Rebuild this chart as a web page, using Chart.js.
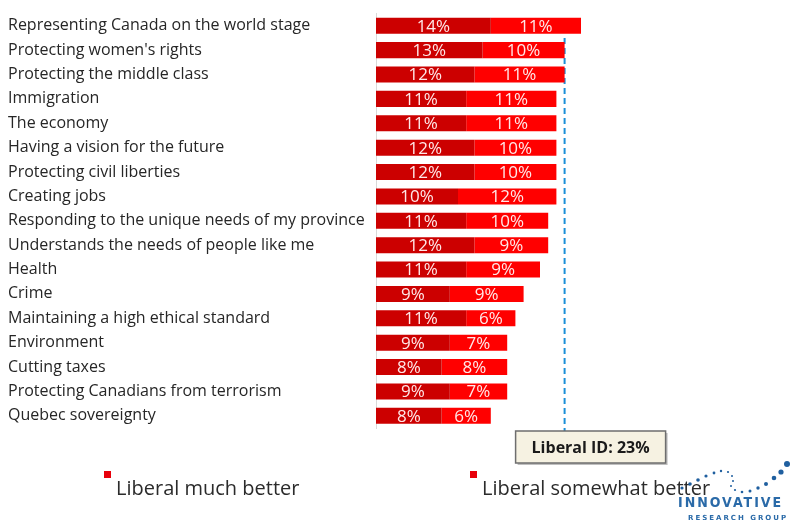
<!DOCTYPE html>
<html>
<head>
<meta charset="utf-8">
<script src="https://cdn.jsdelivr.net/npm/chart.js@4"></script>
<style>
  html, body { margin: 0; padding: 0; background: #fff; }
  #wrap { position: relative; width: 799px; height: 525px; }
</style>
</head>
<body>
<div id="wrap"><canvas id="chart" width="799" height="525"></canvas></div>
<script>
const categories = [
  'Representing Canada on the world stage',
  "Protecting women's rights",
  'Protecting the middle class',
  'Immigration',
  'The economy',
  'Having a vision for the future',
  'Protecting civil liberties',
  'Creating jobs',
  'Responding to the unique needs of my province',
  'Understands the needs of people like me',
  'Health',
  'Crime',
  'Maintaining a high ethical standard',
  'Environment',
  'Cutting taxes',
  'Protecting Canadians from terrorism',
  'Quebec sovereignty'
];
const muchBetter     = [14, 13, 12, 11, 11, 12, 12, 10, 11, 12, 11, 9, 11, 9, 8, 9, 8];
const somewhatBetter = [11, 10, 11, 11, 11, 10, 10, 12, 10,  9,  9, 9,  6, 7, 8, 7, 6];
const seriesNames = ['Liberal much better', 'Liberal somewhat better'];
const liberalId = 23;

const darkRed = '#cc0000';
const brightRed = '#ff0000';
const fontFam = "'Open Sans', sans-serif";

// value labels inside each segment
const segLabels = {
  id: 'segLabels',
  afterDatasetsDraw(chart) {
    const c = chart.ctx;
    c.save();
    c.font = '17px ' + fontFam;
    c.fillStyle = '#ffe8e8';
    c.textAlign = 'center';
    c.textBaseline = 'middle';
    chart.data.datasets.forEach((ds, i) => {
      chart.getDatasetMeta(i).data.forEach((bar, j) => {
        const x = (bar.x + bar.base) / 2;
        c.fillText(ds.data[j] + '%', x, bar.y + 1);
      });
    });
    c.restore();
  }
};

// dashed reference line + callout box
const idLine = {
  id: 'idLine',
  beforeDatasetsDraw(chart) {
    const c = chart.ctx;
    const xs = chart.scales.x, ys = chart.scales.y;
    const x = xs.getPixelForValue(liberalId);
    const pitch = ys.getPixelForValue(1) - ys.getPixelForValue(0);
    c.save();
    c.strokeStyle = '#1b8fd8';
    c.lineWidth = 2;
    c.setLineDash([6, 4]);
    c.beginPath();
    c.moveTo(x, ys.getPixelForValue(1) - pitch / 2);
    c.lineTo(x, chart.chartArea.bottom + 4);
    c.stroke();
    c.restore();
  },
  afterDraw(chart) {
    const c = chart.ctx;
    const x = chart.scales.x.getPixelForValue(liberalId);
    const bx = x - 49, by = chart.chartArea.bottom + 3, bw = 150, bh = 32;
    c.save();
    c.fillStyle = 'rgba(0,0,0,0.25)';
    c.fillRect(bx + 2, by + 2, bw, bh);
    c.fillStyle = '#f6f2e2';
    c.fillRect(bx, by, bw, bh);
    c.strokeStyle = '#6e6e6e';
    c.lineWidth = 1.5;
    c.strokeRect(bx, by, bw, bh);
    c.fillStyle = '#1a1a1a';
    c.font = 'bold 16px ' + fontFam;
    c.textAlign = 'center';
    c.textBaseline = 'middle';
    c.fillText('Liberal ID: ' + liberalId + '%', bx + bw / 2, by + bh / 2 + 1);
    c.restore();
  }
};

// legend at the bottom and logo
const bottomLegend = {
  id: 'bottomLegend',
  afterDraw(chart) {
    const c = chart.ctx;
    const spots = [104, 470];
    c.save();
    chart.data.datasets.forEach((ds, i) => {
      const lx = spots[i];
      c.fillStyle = '#e8000b';
      c.fillRect(lx, 471, 7, 7);
      c.fillStyle = '#2b2b2b';
      c.font = '20px ' + fontFam;
      c.textAlign = 'left';
      c.textBaseline = 'alphabetic';
      c.fillText(ds.label, lx + 12, 495);
    });

    // logo dots
    const dots = [
      [682, 488, 1.6], [690, 484, 1.8], [698, 480, 1.8], [706, 476, 1.6], [714, 473, 1.4],
      [721, 471, 1.2], [728, 472, 1.1], [732, 476, 1.0], [733, 481, 1.0], [731, 486, 1.0],
      [735, 490, 1.1], [742, 492, 1.3], [750, 491, 1.5], [758, 488, 1.7], [766, 484, 2.0],
      [774, 478, 2.3], [781, 472, 2.6], [787, 464, 3.0]
    ];
    c.fillStyle = '#1f5f9f';
    dots.forEach(d => { c.beginPath(); c.arc(d[0], d[1], d[2], 0, Math.PI * 2); c.fill(); });
    c.font = "bold 14px 'DejaVu Sans Condensed', 'Liberation Sans Narrow', sans-serif";
    c.textAlign = 'left';
    c.letterSpacing = '2px';
    c.fillStyle = '#2a6aa8';
    c.fillText('INNOVATIVE', 678, 507);
    c.font = "bold 7px 'DejaVu Sans', sans-serif";
    c.letterSpacing = '2px';
    c.fillText('RESEARCH GROUP', 688, 520);
    c.restore();
  }
};

new Chart(document.getElementById('chart'), {
  type: 'bar',
  data: {
    labels: categories,
    datasets: [
      { label: seriesNames[0], data: muchBetter, backgroundColor: darkRed, barPercentage: 0.66, categoryPercentage: 1 },
      { label: seriesNames[1], data: somewhatBetter, backgroundColor: brightRed, barPercentage: 0.66, categoryPercentage: 1 }
    ]
  },
  options: {
    indexAxis: 'y',
    responsive: false,
    animation: false,
    layout: { padding: { left: 8, right: 177, top: 8, bottom: 97 } },
    plugins: { legend: { display: false }, tooltip: { enabled: false } },
    scales: {
      x: { stacked: true, min: 0, max: 30, display: false },
      y: {
        stacked: true,
        grid: { display: false },
        border: { display: true, color: '#d9d9d9', width: 1 },
        ticks: { crossAlign: 'far', color: '#262626', font: { family: fontFam, size: 16 }, padding: 4 },
        afterFit(scale) { scale.width = 368; }
      }
    }
  },
  plugins: [segLabels, idLine, bottomLegend]
});
</script>
</body>
</html>
